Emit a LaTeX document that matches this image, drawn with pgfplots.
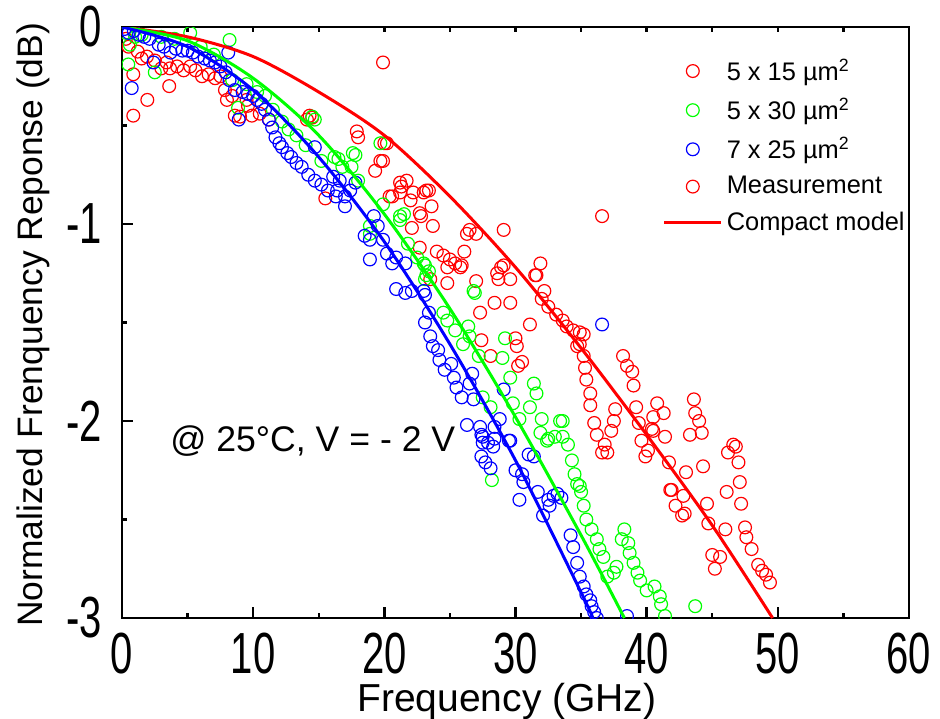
\documentclass[border=0pt]{standalone}
\usepackage{fontspec}
\setmainfont{Liberation Sans}
\newfontfamily\tickfont[FakeStretch=0.69]{Liberation Sans}
\usepackage{pgfplots}
\pgfplotsset{compat=1.18}
\definecolor{mred}{RGB}{255,0,0}
\definecolor{mgreen}{RGB}{0,255,0}
\definecolor{mblue}{RGB}{0,0,255}

\pgfplotsset{
  meas/.style={only marks, mark=o, mark size=3.2pt, mark options={line width=0.6pt}},
  model/.style={line width=1.5pt, smooth, no marks},
}

\begin{document}
\begin{tikzpicture}
\useasboundingbox (-61pt,-50pt) rectangle (409pt,309pt);

% top ticks only (short, pointing in)
\begin{axis}[
  at={(0,0)}, anchor=south west,
  scale only axis, width=393.5pt, height=295.5pt,
  xmin=0, xmax=60, ymin=-3, ymax=0,
  xtick={0,5,...,60}, xticklabels={}, ytick=\empty,
  xtick pos=right, tick align=inside,
  major tick length=2.5pt,
  tick style={line width=1.2pt, black},
  axis line style={draw=none},
]
\end{axis}

\begin{axis}[
  at={(0,0)}, anchor=south west,
  scale only axis, width=393.5pt, height=295.5pt,
  xmin=0, xmax=60, ymin=-3, ymax=0,
  xtick={0,10,...,60}, ytick={-3,-2,-1,0},
  minor x tick num=1, minor y tick num=1,
  xtick pos=left, ytick pos=left,
  tick align=inside,
  major tick length=5.5pt, minor tick length=2.5pt,
  tick style={line width=1.2pt, black},
  axis line style={line width=1.25pt},
  /pgf/number format/assume math mode=true,
  ticklabel style={font=\tickfont\fontsize{29}{33}\selectfont, inner sep=0pt},
  xticklabel style={anchor=north, yshift=-7.5pt},
  yticklabel style={anchor=east, xshift=-10pt},
  xlabel={Frequency (GHz)},
  ylabel={Normalized Frenquency Reponse (dB)},
  xlabel style={at={(axis description cs:0.489,0)}, anchor=center, yshift=-41.6pt, font=\fontsize{19.5}{22}\selectfont, inner sep=0pt},
  ylabel style={at={(axis description cs:-0.1131,0.496)}, anchor=center, font=\fontsize{17.7}{20}\selectfont},
  clip marker paths=true,
  legend style={draw=none, fill=none, at={(axis cs:41.2,-0.14)}, anchor=north west,
    font=\fontsize{12.7}{15}\selectfont, row sep=3.5pt, inner sep=0pt},
  legend cell align=left,
  legend image code/.code={\draw[mark repeat=2,mark phase=2,#1] plot coordinates {(0pt,0pt) (14.25pt,0pt) (28.5pt,0pt)};},
]

\addplot[meas, mred] coordinates {
(0.3,-0.06) (0.5,-0.10) (0.86,-0.24) (0.86,-0.45) (1.2,-0.125) (1.5,-0.16) (1.9,-0.15) (1.93,-0.37)
(2.5,-0.17) (3.0,-0.21) (3.4,-0.18) (3.6,-0.30) (3.66,-0.21) (4.2,-0.20) (4.7,-0.22) (5.2,-0.20)
(5.6,-0.22) (6.1,-0.25) (6.6,-0.24) (7.1,-0.26) (7.5,-0.25) (7.85,-0.32) (8.0,-0.37) (8.4,-0.35)
(8.6,-0.45) (9.0,-0.455) (9.5,-0.37) (9.6,-0.40) (9.9,-0.45) (10.5,-0.44) (11.2,-0.47) (14.1,-0.47)
(14.3,-0.45) (14.5,-0.46) (15.5,-0.87) (17.9,-0.53) (18.0,-0.56) (19.9,-0.18) (19.3,-0.73) (19.7,-0.68)
(19.9,-0.68) (20.0,-0.59) (20.2,-0.59) (20.4,-0.86) (20.6,-0.86) (21.2,-0.84) (21.2,-0.79) (21.3,-0.81)
(21.7,-0.78) (22.0,-0.88) (22.1,-1.02) (22.2,-0.84) (22.7,-0.945) (22.7,-1.12) (22.8,-0.96) (23.0,-0.84)
(23.2,-0.83) (23.4,-0.83) (23.5,-1.28) (23.6,-0.91) (23.7,-1.01) (24.0,-1.14) (24.5,-1.16) (24.8,-1.22)
(24.8,-1.30) (25.0,-1.18) (25.4,-1.20) (25.8,-1.22) (25.9,-1.21) (26.1,-1.14) (26.3,-1.05) (26.5,-1.03)
(27.0,-1.05) (27.0,-1.29) (27.3,-1.45) (27.4,-1.59) (28.1,-1.67) (28.4,-1.40) (28.6,-1.25) (28.7,-1.28)
(28.9,-1.22) (29.1,-1.03) (29.1,-1.21) (29.6,-1.28) (29.6,-1.40) (30.0,-1.58) (30.1,-1.62) (30.2,-1.72)
(30.5,-1.70) (31.1,-1.51) (31.5,-1.26) (31.6,-1.26) (31.9,-1.20) (32.2,-1.34) (32.0,-1.38) (32.5,-1.42)
(33.1,-1.46) (33.6,-1.49) (33.9,-1.52) (34.4,-1.54) (34.7,-1.62) (34.9,-1.55) (34.9,-1.61) (35.2,-1.56)
(35.2,-1.67) (35.3,-1.73) (35.4,-1.79) (35.7,-1.86) (35.7,-1.92) (36.0,-2.01) (36.2,-2.07) (36.6,-2.16)
(36.6,-0.96) (36.8,-2.12) (37.0,-2.16) (37.3,-2.05) (37.5,-2.00) (37.6,-1.94) (38.2,-1.67) (38.5,-1.72)
(38.9,-1.75) (39.0,-1.82) (39.2,-1.93) (39.4,-2.01) (39.6,-2.10) (39.9,-2.18) (40.1,-2.15) (40.4,-2.04)
(40.5,-2.05) (40.5,-1.98) (40.8,-1.91) (41.3,-1.96) (41.4,-2.08) (41.7,-2.21) (41.8,-2.35) (41.9,-2.35)
(42.2,-2.43) (42.7,-2.48) (42.9,-2.47) (42.8,-2.38) (43.0,-2.26) (43.3,-2.07) (43.6,-1.89) (43.7,-1.96)
(44.0,-2.00) (44.2,-2.06) (44.3,-2.23) (44.6,-2.42) (44.7,-2.52) (45.0,-2.68) (45.2,-2.75) (45.6,-2.69)
(46.0,-2.55) (46.1,-2.36) (46.2,-2.16) (46.6,-2.12) (46.8,-2.13) (47.0,-2.21) (47.1,-2.31) (47.2,-2.42)
(47.5,-2.54) (47.6,-2.59) (48.0,-2.65) (48.5,-2.73) (48.8,-2.76) (49.1,-2.78) (49.4,-2.82)
};
\addlegendentry{5 x 15 µm\textsuperscript{2}}

\addplot[meas, mgreen] coordinates {
(0.3,-0.03) (0.48,-0.19) (0.6,-0.09) (1.0,-0.05) (1.5,-0.04) (2.5,-0.23) (3.0,-0.05) (4.0,-0.06)
(5.2,-0.03) (6.0,-0.10) (7.0,-0.14) (8.2,-0.066) (8.4,-0.27) (8.85,-0.41) (9.5,-0.29) (10.3,-0.33)
(10.9,-0.35) (11.5,-0.42) (12.2,-0.48) (12.7,-0.52) (13.3,-0.55) (14.0,-0.60) (14.5,-0.455) (14.7,-0.47)
(15.2,-0.68) (16.2,-0.66) (16.5,-0.67) (16.8,-0.71) (17.5,-0.71) (17.6,-0.64) (17.8,-0.65) (18.0,-0.78)
(18.9,-1.05) (18.9,-1.01) (19.7,-0.59) (19.9,-0.90) (21.2,-0.96) (21.2,-0.98) (21.5,-0.95) (21.8,-1.10)
(22.5,-1.17) (23.0,-1.20) (23.1,-1.21) (23.1,-1.28) (23.2,-1.26) (23.4,-1.24) (24.5,-1.45) (24.8,-1.49)
(25.4,-1.54) (26.0,-1.61) (26.4,-1.52) (26.5,-1.57) (26.8,-1.34) (26.9,-1.35) (27.2,-1.67) (27.5,-1.88)
(28.1,-1.93) (28.2,-2.30) (29.0,-1.68) (29.2,-1.58) (29.6,-1.78) (29.8,-1.91) (30.3,-1.99) (31.1,-1.93)
(31.4,-1.81) (31.6,-1.86) (31.9,-2.06) (32.0,-1.99) (32.4,-2.10) (32.5,-2.09) (33.0,-2.08) (33.4,-2.00)
(33.6,-2.00) (33.6,-2.08) (34.0,-2.12) (34.3,-2.20) (34.5,-2.27) (34.7,-2.32) (34.9,-2.33) (35.0,-2.36)
(35.2,-2.43) (35.4,-2.50) (35.8,-2.55) (36.2,-2.60) (36.4,-2.65) (36.7,-2.69) (37.0,-2.79) (37.5,-2.77)
(37.7,-2.74) (38.1,-2.60) (38.3,-2.55) (38.6,-2.62) (38.7,-2.67) (39.0,-2.72) (39.3,-2.77) (39.5,-2.81)
(40.0,-2.86) (40.6,-2.84) (41.0,-2.89) (41.1,-2.93) (41.4,-2.99) (43.7,-2.94)
};
\addlegendentry{5 x 30 µm\textsuperscript{2}}

\addplot[meas, mblue] coordinates {
(0.2,-0.01) (0.5,-0.03) (0.74,-0.31) (0.9,-0.02) (1.3,-0.04) (1.7,-0.05) (2.1,-0.06) (2.4,-0.18)
(2.8,-0.09) (3.2,-0.10) (3.7,-0.13) (4.1,-0.11) (4.6,-0.12) (5.0,-0.12) (5.4,-0.13) (5.8,-0.15)
(6.3,-0.16) (6.7,-0.17) (7.1,-0.18) (7.5,-0.20) (7.9,-0.23) (8.1,-0.13) (8.2,-0.27) (8.6,-0.32)
(8.9,-0.47) (9.2,-0.33) (9.6,-0.34) (10.0,-0.35) (10.3,-0.37) (10.65,-0.39) (10.9,-0.42) (11.2,-0.47)
(11.45,-0.51) (11.7,-0.56) (12.0,-0.59) (12.2,-0.61) (12.6,-0.64) (12.9,-0.66) (13.3,-0.69) (13.7,-0.71)
(14.2,-0.75) (14.7,-0.61) (14.7,-0.78) (15.2,-0.80) (15.7,-0.83) (16.1,-0.76) (16.3,-0.86) (16.4,-0.83)
(16.6,-0.78) (17.0,-0.86) (17.0,-0.91) (17.4,-0.83) (17.8,-0.79) (18.5,-1.06) (18.9,-1.08) (18.9,-1.18)
(19.2,-0.96) (19.5,-1.01) (19.9,-1.08) (20.2,-1.15) (20.6,-1.20) (20.9,-1.17) (20.9,-1.33) (21.6,-1.20)
(21.6,-1.35) (22.1,-1.34) (23.0,-1.34) (23.1,-1.36) (23.1,-1.50) (23.4,-1.45) (23.5,-1.57) (23.7,-1.62)
(24.1,-1.64) (24.2,-1.69) (24.6,-1.74) (25.1,-1.71) (25.3,-1.78) (25.5,-1.83) (25.9,-1.88) (26.3,-2.02)
(26.5,-1.81) (26.7,-1.76) (26.8,-1.89) (27.3,-2.03) (27.4,-2.07) (27.4,-2.18) (27.5,-2.08) (27.5,-2.11)
(27.7,-2.21) (27.9,-2.11) (28.1,-2.24) (28.3,-2.13) (28.4,-2.03) (28.4,-2.09) (28.8,-1.99) (29.1,-1.84)
(29.5,-2.10) (29.6,-2.10) (30.0,-2.25) (30.3,-2.40) (30.5,-2.27) (30.6,-2.31) (31.0,-2.17) (31.4,-2.18)
(31.7,-2.36) (32.1,-2.48) (32.5,-2.40) (32.6,-2.43) (32.9,-2.38) (33.2,-2.37) (33.5,-2.39) (34.2,-2.58)
(34.4,-2.64) (34.7,-2.72) (34.9,-2.79) (35.2,-2.84) (35.4,-2.88) (35.7,-2.91) (35.8,-2.94) (36.0,-2.97)
(36.2,-3.00) (36.6,-1.51) (38.5,-2.99)
};
\addlegendentry{7 x 25 µm\textsuperscript{2}}

\addlegendimage{meas, mred}
\addlegendentry{Measurement}

\addplot[model, mred] coordinates {
(0,0) (5,-0.05) (10,-0.15) (15,-0.33) (20,-0.55) (25,-0.86) (30,-1.22) (35,-1.63) (40,-2.07) (45,-2.53) (49.6,-3.0)
};
\addlegendentry{Compact model}

\addplot[model, mgreen, forget plot] coordinates {
(0,0) (5,-0.07) (10,-0.26) (15,-0.55) (20,-0.95) (25,-1.43) (30,-1.98) (35,-2.58) (38.3,-3.0)
};
\addplot[model, mblue, forget plot] coordinates {
(0,0) (5,-0.10) (10,-0.32) (15,-0.66) (20,-1.09) (25,-1.61) (30,-2.20) (35,-2.87) (35.9,-3.0)
};

\node[anchor=west, inner sep=0pt, font=\fontsize{17.8}{20}\selectfont] at (axis cs:3.66,-2.10) {@ 25°C, V = - 2 V};
\end{axis}
\end{tikzpicture}
\end{document}
